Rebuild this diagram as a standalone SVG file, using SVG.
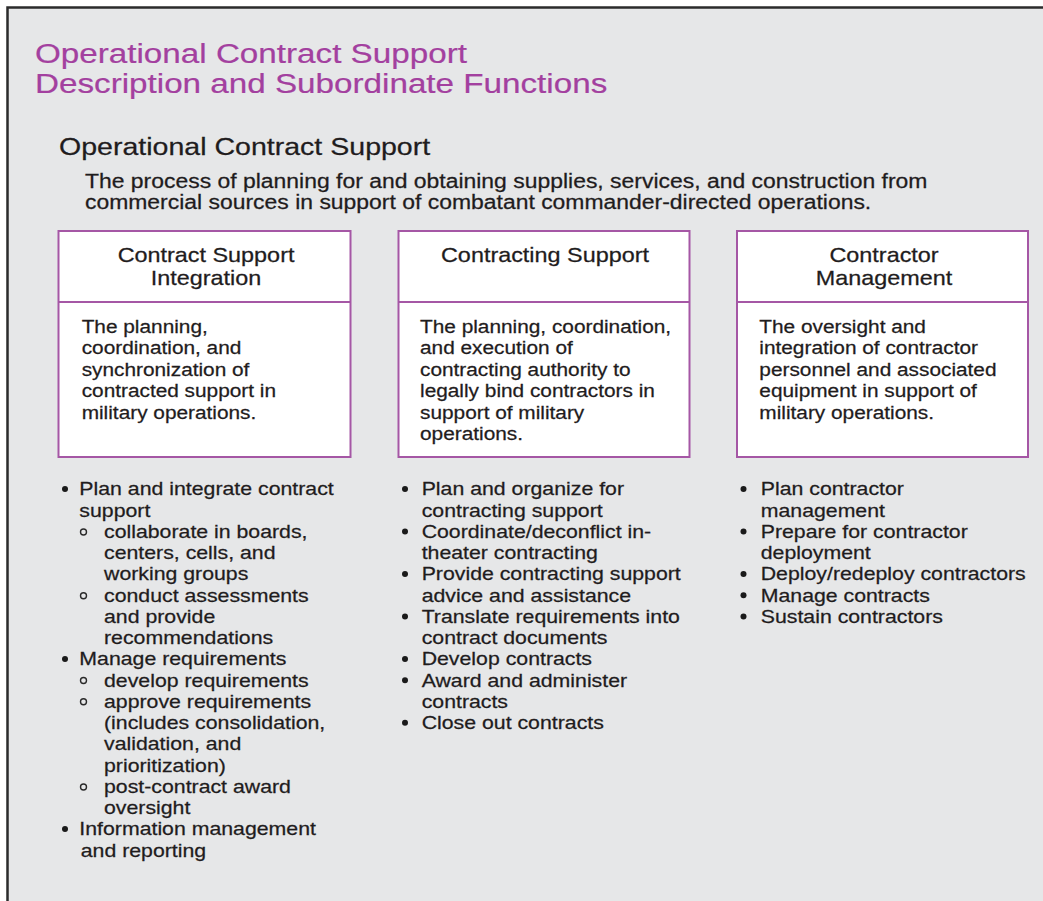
<svg xmlns="http://www.w3.org/2000/svg" width="1043" height="901" viewBox="0 0 1043 901">
<style>
text{font-family:"Liberation Sans",Arial,Helvetica,sans-serif;fill:#1f1c1d;stroke:#1f1c1d;stroke-width:0.25}
.title{font-size:28.4px;fill:#a3409f;stroke:#a3409f;stroke-width:0.2}
.sub{font-size:24.4px}
.intro{font-size:19.6px}
.bh{font-size:20px;text-anchor:middle}
.bb{font-size:17.8px}
.bl{font-size:18.2px}
.box{fill:#ffffff;stroke:#a557a5;stroke-width:2}
.dot{fill:#1a1a1a}
.ring{fill:none;stroke:#2a2a2a;stroke-width:1.4}
</style>
<rect x="0" y="0" width="1043" height="901" fill="#ffffff"/>
<rect id="frame" x="7.5" y="7.5" width="1100" height="1000" fill="#e6e7e8" stroke="#2b2b2b" stroke-width="2.5"/>

<g id="title">
  <g transform="scale(1.17 1)">
    <text class="title"><tspan x="29.9" y="63">Operational Contract Support</tspan><tspan x="29.9" y="93">Description and Subordinate Functions</tspan></text>
  </g>
</g>

<g id="ocs">
  <g transform="scale(1.17 1)">
    <text class="sub" x="50.4" y="155">Operational Contract Support</text>
    <text class="intro"><tspan x="72.6" y="188">The process of planning for and obtaining supplies, services, and construction from</tspan><tspan x="72.6" y="209.5">commercial sources in support of combatant commander-directed operations.</tspan></text>
  </g>
</g>

<g id="box-csi">
  <rect class="box" x="58.5" y="231" width="292" height="226"/>
  <line class="box" x1="58.5" y1="302" x2="350.5" y2="302"/>
  <g transform="scale(1.17 1)">
    <text class="bh"><tspan x="176.1" y="262">Contract Support</tspan><tspan x="176.1" y="285.5">Integration</tspan></text>
    <text class="bb"><tspan x="69.8" y="333">The planning,</tspan><tspan x="69.8" y="354.4">coordination, and</tspan><tspan x="69.8" y="375.8">synchronization of</tspan><tspan x="69.8" y="397.2">contracted support in</tspan><tspan x="69.8" y="418.6">military operations.</tspan></text>
  </g>
</g>

<g id="box-cs">
  <rect class="box" x="398.5" y="231" width="291" height="226"/>
  <line class="box" x1="398.5" y1="302" x2="689.5" y2="302"/>
  <g transform="scale(1.17 1)">
    <text class="bh"><tspan x="465.8" y="262">Contracting Support</tspan></text>
    <text class="bb"><tspan x="359" y="333">The planning, coordination,</tspan><tspan x="359" y="354.4">and execution of</tspan><tspan x="359" y="375.8">contracting authority to</tspan><tspan x="359" y="397.2">legally bind contractors in</tspan><tspan x="359" y="418.6">support of military</tspan><tspan x="359" y="440">operations.</tspan></text>
  </g>
</g>

<g id="box-cm">
  <rect class="box" x="737" y="231" width="291" height="226"/>
  <line class="box" x1="737" y1="302" x2="1028" y2="302"/>
  <g transform="scale(1.17 1)">
    <text class="bh"><tspan x="755.6" y="262">Contractor</tspan><tspan x="755.6" y="285.5">Management</tspan></text>
    <text class="bb"><tspan x="649" y="333">The oversight and</tspan><tspan x="649" y="354.4">integration of contractor</tspan><tspan x="649" y="375.8">personnel and associated</tspan><tspan x="649" y="397.2">equipment in support of</tspan><tspan x="649" y="418.6">military operations.</tspan></text>
  </g>
</g>

<g id="list-csi">
  <circle class="dot" cx="65" cy="489" r="3"/>
  <circle class="ring" cx="83.5" cy="532" r="3"/>
  <circle class="ring" cx="83.5" cy="595.8" r="3"/>
  <circle class="dot" cx="65" cy="659" r="3"/>
  <circle class="ring" cx="83.5" cy="680.5" r="3"/>
  <circle class="ring" cx="83.5" cy="701.8" r="3"/>
  <circle class="ring" cx="83.5" cy="787" r="3"/>
  <circle class="dot" cx="65" cy="829" r="3"/>
  <g transform="scale(1.17 1)">
    <text class="bl"><tspan x="67.8" y="495.5">Plan and integrate contract</tspan><tspan x="67.8" y="516.75">support</tspan><tspan x="88.9" y="538">collaborate in boards,</tspan><tspan x="88.9" y="559.25">centers, cells, and</tspan><tspan x="88.9" y="580.5">working groups</tspan><tspan x="88.9" y="601.75">conduct assessments</tspan><tspan x="88.9" y="623">and provide</tspan><tspan x="88.9" y="644.25">recommendations</tspan><tspan x="67.8" y="665.5">Manage requirements</tspan><tspan x="88.9" y="686.75">develop requirements</tspan><tspan x="88.9" y="708">approve requirements</tspan><tspan x="88.9" y="729.25">(includes consolidation,</tspan><tspan x="88.9" y="750.5">validation, and</tspan><tspan x="88.9" y="771.75">prioritization)</tspan><tspan x="88.9" y="793">post-contract award</tspan><tspan x="88.9" y="814.25">oversight</tspan><tspan x="67.8" y="835.5">Information management</tspan><tspan x="69" y="856.75">and reporting</tspan></text>
  </g>
</g>

<g id="list-cs">
  <circle class="dot" cx="405" cy="489" r="3"/>
  <circle class="dot" cx="405" cy="531.5" r="3"/>
  <circle class="dot" cx="405" cy="574" r="3"/>
  <circle class="dot" cx="405" cy="616.5" r="3"/>
  <circle class="dot" cx="405" cy="659" r="3"/>
  <circle class="dot" cx="405" cy="680.25" r="3"/>
  <circle class="dot" cx="405" cy="722.75" r="3"/>
  <g transform="scale(1.17 1)">
    <text class="bl"><tspan x="360.4" y="495.5">Plan and organize for</tspan><tspan x="360.4" y="516.75">contracting support</tspan><tspan x="360.4" y="538">Coordinate/deconflict in-</tspan><tspan x="360.4" y="559.25">theater contracting</tspan><tspan x="360.4" y="580.5">Provide contracting support</tspan><tspan x="360.4" y="601.75">advice and assistance</tspan><tspan x="360.4" y="623">Translate requirements into</tspan><tspan x="360.4" y="644.25">contract documents</tspan><tspan x="360.4" y="665.5">Develop contracts</tspan><tspan x="360.4" y="686.75">Award and administer</tspan><tspan x="360.4" y="708">contracts</tspan><tspan x="360.4" y="729.25">Close out contracts</tspan></text>
  </g>
</g>

<g id="list-cm">
  <circle class="dot" cx="743.5" cy="489" r="3"/>
  <circle class="dot" cx="743.5" cy="531.5" r="3"/>
  <circle class="dot" cx="743.5" cy="574" r="3"/>
  <circle class="dot" cx="743.5" cy="595.25" r="3"/>
  <circle class="dot" cx="743.5" cy="616.5" r="3"/>
  <g transform="scale(1.17 1)">
    <text class="bl"><tspan x="650.2" y="495.5">Plan contractor</tspan><tspan x="650.2" y="516.75">management</tspan><tspan x="650.2" y="538">Prepare for contractor</tspan><tspan x="650.2" y="559.25">deployment</tspan><tspan x="650.2" y="580.5">Deploy/redeploy contractors</tspan><tspan x="650.2" y="601.75">Manage contracts</tspan><tspan x="650.2" y="623">Sustain contractors</tspan></text>
  </g>
</g>

<g id="connectors"/>
</svg>
